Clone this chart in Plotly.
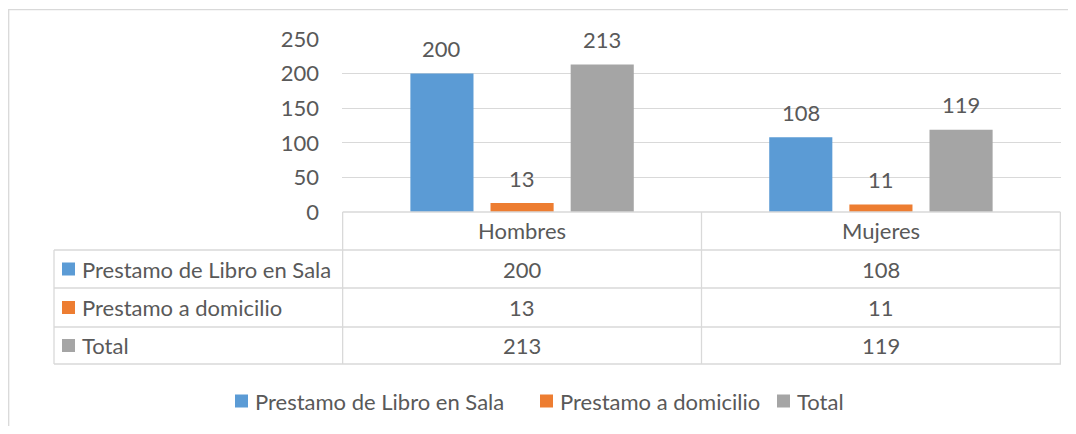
import plotly.graph_objects as go

# ---------------- data ----------------
categories = ["Hombres", "Mujeres"]
series_names = ["Prestamo de Libro en Sala", "Prestamo a domicilio", "Total"]
sala = [200, 108]
domicilio = [13, 11]
total = [213, 119]
y_ticks = [0, 50, 100, 150, 200, 250]

# ---------------- style ----------------
colors = ["#5B9BD5", "#ED7D31", "#A5A5A5"]
series_values = [sala, domicilio, total]
OX, OY = 8, 8                     # default page (body) margin of the html page
W, H = 1076 - 2 * OX, 434 - 2 * OY
PL, PR, PT, PB = 342, 1061, 39, 212   # plot area in window pixels
FONT = "Lato"
FS = 22
TXT = "#595959"
GRID = "#D9D9D9"
BARGAP = 0.33
GROUPGAP = 0.2125


def fx(p):
    return (p - PL) / (PR - PL)


def fy(p):
    return (PB - p) / (PB - PT)


fig = go.Figure()
for name, vals, c in zip(series_names, series_values, colors):
    fig.add_trace(go.Bar(x=categories, y=vals, name=name,
                         marker=dict(color=c, line=dict(width=0)),
                         cliponaxis=False, showlegend=False))

annotations = []
shapes = []

# data labels above bars
slot_px = (PR - PL) / len(categories) * (1 - BARGAP) / len(series_names)
for i, vals in enumerate(series_values):
    for cat, v in zip(categories, vals):
        annotations.append(dict(x=cat, y=v, xref="x", yref="y", text=str(v),
                                showarrow=False, xshift=(i - 1) * slot_px,
                                yshift=25, yanchor="middle",
                                font=dict(family=FONT, size=FS, color=TXT)))

# data table
line = dict(color=GRID, width=1.3)
row_edges = [212, 250, 288, 327, 364]
table_left = 54
shapes.append(dict(type="line", xref="x", yref="paper", x0=-0.5, x1=len(categories) - 0.5,
                   y0=fy(row_edges[0]), y1=fy(row_edges[0]), line=line))
for r in row_edges[1:]:
    shapes.append(dict(type="line", xref="paper", yref="paper", x0=fx(table_left), x1=1,
                       y0=fy(r), y1=fy(r), line=line))
shapes.append(dict(type="line", xref="paper", yref="paper", x0=fx(table_left), x1=fx(table_left),
                   y0=fy(row_edges[1]), y1=fy(row_edges[-1]), line=line))
for k in range(len(categories) + 1):
    xv = k - 0.5
    shapes.append(dict(type="line", xref="x", yref="paper", x0=xv, x1=xv,
                       y0=fy(row_edges[0]), y1=fy(row_edges[-1]), line=line))
for cat in categories:
    annotations.append(dict(x=cat, y=fy((row_edges[0] + row_edges[1]) / 2), xref="x", yref="paper",
                            text=cat, showarrow=False, yanchor="middle",
                            font=dict(family=FONT, size=FS, color=TXT)))
for i, (name, vals, c) in enumerate(zip(series_names, series_values, colors)):
    yc = (row_edges[i + 1] + row_edges[i + 2]) / 2
    shapes.append(dict(type="rect", xref="paper", yref="paper", x0=fx(62), x1=fx(75),
                       y0=fy(yc - 6.5), y1=fy(yc + 6.5), fillcolor=c, line=dict(width=0)))
    annotations.append(dict(x=fx(80), y=fy(yc), xref="paper", yref="paper", text=name,
                            showarrow=False, xanchor="left", yanchor="middle",
                            font=dict(family=FONT, size=FS, color=TXT)))
    for cat, v in zip(categories, vals):
        annotations.append(dict(x=cat, y=fy(yc), xref="x", yref="paper", text=str(v),
                                showarrow=False, yanchor="middle",
                                font=dict(family=FONT, size=FS, color=TXT)))

# bottom legend
legend_y = 401
legend_sq = [235, 540, 777]
for name, c, sx in zip(series_names, colors, legend_sq):
    shapes.append(dict(type="rect", xref="paper", yref="paper", x0=fx(sx), x1=fx(sx + 13),
                       y0=fy(legend_y - 6.5), y1=fy(legend_y + 6.5), fillcolor=c, line=dict(width=0)))
    annotations.append(dict(x=fx(sx + 18), y=fy(legend_y), xref="paper", yref="paper", text=name,
                            showarrow=False, xanchor="left", yanchor="middle",
                            font=dict(family=FONT, size=FS, color=TXT)))

# outer chart border
shapes.append(dict(type="rect", xref="paper", yref="paper", x0=fx(8.7), x1=fx(1100),
                   y0=fy(460), y1=fy(9.7), line=dict(color=GRID, width=1.3), layer="below"))

fig.update_layout(
    width=W, height=H,
    margin=dict(l=PL - OX, r=W - (PR - OX), t=PT - OY, b=H - (PB - OY), pad=0),
    paper_bgcolor="white", plot_bgcolor="white",
    barmode="group", bargap=BARGAP, bargroupgap=GROUPGAP,
    font=dict(family=FONT, size=FS, color=TXT),
    xaxis=dict(showticklabels=False, showgrid=False, showline=False, zeroline=False,
               ticks="", fixedrange=True),
    yaxis=dict(range=[0, 250], tickvals=y_ticks, showgrid=True, gridcolor=GRID, gridwidth=1.3,
               zeroline=False, showline=False, ticks="", ticklabelstandoff=22,
               tickfont=dict(family=FONT, size=FS, color=TXT), fixedrange=True),
    showlegend=False,
    annotations=annotations, shapes=shapes,
)

fig.write_html("out.html")
